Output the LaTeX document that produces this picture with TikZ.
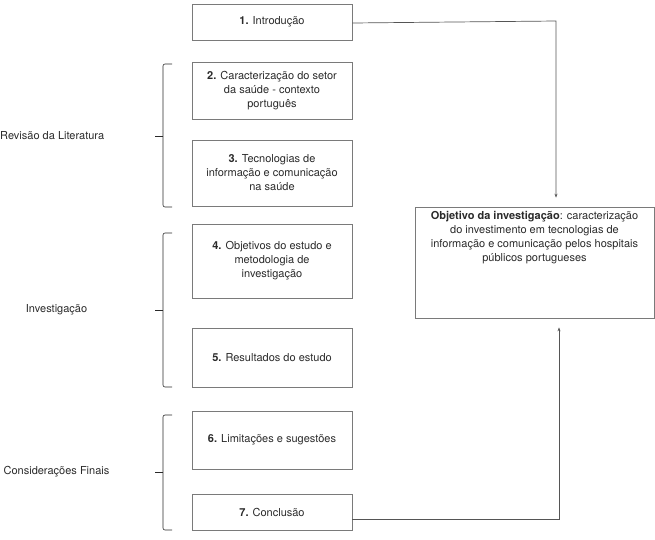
\documentclass[tikz,border=0pt]{standalone}
\usepackage{fontspec}
\setmainfont{TeX Gyre Heros}
\usetikzlibrary{arrows.meta}
\definecolor{boxline}{HTML}{7A7A7A}
\definecolor{txt}{HTML}{2A2A2A}
\begin{document}
\begin{tikzpicture}[x=1pt,y=-1pt,
  every node/.style={font=\fontsize{11}{14}\selectfont, text=txt},
  stepbox/.style={draw=boxline, line width=0.7pt, minimum width=160pt, align=center, inner sep=0pt},
  brk/.style={draw=txt, line width=0.6pt, rounded corners=2pt},
  conn/.style={draw=txt!80, line width=0.7pt},
  arr/.style={conn, -{Stealth[length=4pt,width=3pt]}, shorten >=9pt}
]
\useasboundingbox (0,0) rectangle (655,539);
% boxes
\node[stepbox, minimum height=36pt] (b1) at (272,22) {\textbf{1.} Introdução};
\node[stepbox, minimum height=57pt] (b2) at (272,90.5) {\textbf{2.} Caracterização do setor\\da saúde - contexto\\português};
\node[stepbox, minimum height=66pt] (b3) at (272,173) {\textbf{3.} Tecnologias de\\informação e comunicação\\na saúde};
\node[stepbox, minimum height=74pt] (b4) at (272,261) {\textbf{4.} Objetivos do estudo e\\metodologia de\\investigação};
\node[stepbox, minimum height=59pt] (b5) at (272,357.5) {\textbf{5.} Resultados do estudo};
\node[stepbox, minimum height=58pt] (b6) at (272,440) {\textbf{6.} Limitações e sugestões};
\node[stepbox, minimum height=36pt] (b7) at (272,512) {\textbf{7.} Conclusão};
% objective box
\node[draw=boxline, line width=0.7pt, minimum width=239pt, minimum height=111pt, inner sep=0pt] (obj) at (534.5,262.5) {};
\node[align=center, inner sep=0pt, anchor=north] (objt) at ([yshift=-4pt]obj.north) {\textbf{Objetivo da investigação}: caracterização\\do investimento em tecnologias de\\informação e comunicação pelos hospitais\\públicos portugueses};
% connectors
\coordinate (c1) at (556,21);
\coordinate (c2) at (559,519);
\draw[arr] ([yshift=-1pt]b1.east) -- (c1) -- (c1 |- obj.north);
\draw[arr] ([yshift=-7pt]b7.east) -- (c2) -- (c2 |- obj.south);
% brackets
\draw[brk] (172,64) -| (163,207) -- (172,207);
\draw[brk] (163,136) -- (155,136);
\draw[brk] (172,233) -| (163,387) -- (172,387);
\draw[brk] (163,310) -- (155,310);
\draw[brk] (172,415) -| (163,530) -- (172,530);
\draw[brk] (163,472) -- (155,472);
% labels
\node[anchor=west, inner sep=0pt] (l1) at (0,136) {Revisão da Literatura};
\node[inner sep=0pt] (l2) at (56.5,310) {Investigação};
\node[inner sep=0pt] (l3) at (56.5,472) {Considerações Finais};
\end{tikzpicture}
\end{document}
